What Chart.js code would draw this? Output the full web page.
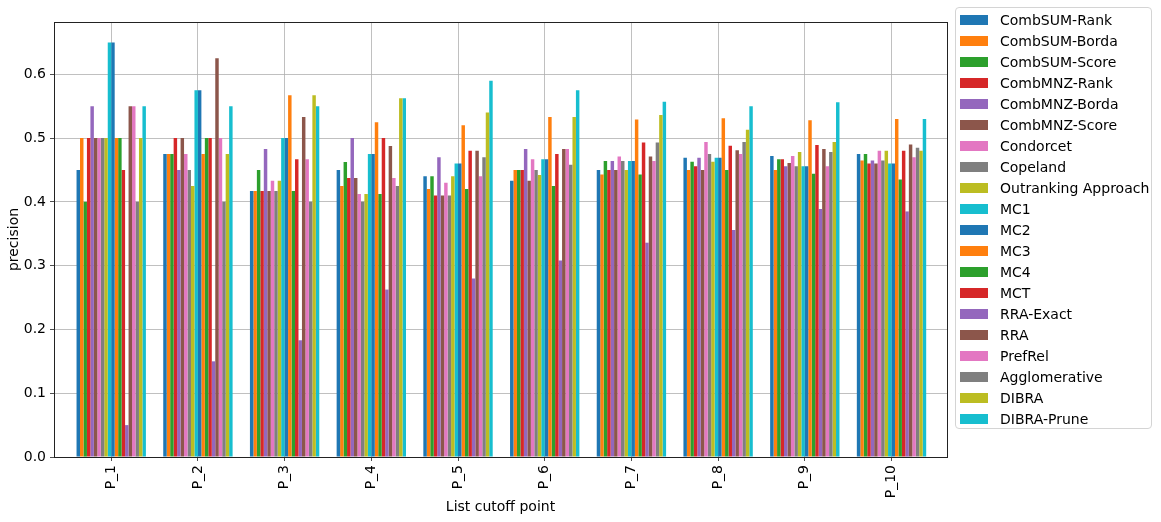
<!DOCTYPE html>
<html>
<head>
<meta charset="utf-8">
<script src="https://cdn.jsdelivr.net/npm/chart.js@4/dist/chart.umd.min.js"></script>
<style>
  html, body { margin: 0; padding: 0; background: #fff; }
  #wrap { position: relative; width: 1161px; height: 522px; }
  #legend {
    position: absolute; left: 955px; top: 7px; width: 197px; height: 422px;
    border: 1px solid #d4d4d4; border-radius: 4px; background: rgba(255,255,255,0.8);
    font-family: "DejaVu Sans", sans-serif; font-size: 14px; color: #000;
    box-sizing: border-box; padding-top: 1px;
  }
  .row { display: flex; align-items: center; height: 21px; }
  .box { width: 28px; height: 10px; margin-left: 4px; margin-right: 12px; }
</style>
</head>
<body>
<div id="wrap">
  <canvas id="chart" width="1161" height="522"></canvas>
  <div id="legend"></div>
</div>
<script>
const categories = ["P_1", "P_2", "P_3", "P_4", "P_5", "P_6", "P_7", "P_8", "P_9", "P_10"];
const methods = ["CombSUM-Rank", "CombSUM-Borda", "CombSUM-Score", "CombMNZ-Rank", "CombMNZ-Borda",
  "CombMNZ-Score", "Condorcet", "Copeland", "Outranking Approach", "MC1", "MC2", "MC3", "MC4",
  "MCT", "RRA-Exact", "RRA", "PrefRel", "Agglomerative", "DIBRA", "DIBRA-Prune"];
const colors = ["#1f77b4", "#ff7f0e", "#2ca02c", "#d62728", "#9467bd",
  "#8c564b", "#e377c2", "#7f7f7f", "#bcbd22", "#17becf"];
const yTicks = [0, 0.1, 0.2, 0.3, 0.4, 0.5, 0.6];

// precision per cutoff point, one value per method (same order as methods)
const p1 = [0.45, 0.5, 0.4, 0.5, 0.55, 0.5, 0.5, 0.5, 0.5, 0.65, 0.65, 0.5, 0.5, 0.45, 0.05, 0.55, 0.55, 0.4, 0.5, 0.55];
const p2 = [0.475, 0.475, 0.475, 0.5, 0.45, 0.5, 0.475, 0.45, 0.425, 0.575, 0.575, 0.475, 0.5, 0.5, 0.15, 0.625, 0.5, 0.4, 0.475, 0.55];
const p3 = [0.417, 0.417, 0.45, 0.417, 0.483, 0.417, 0.433, 0.417, 0.433, 0.5, 0.5, 0.567, 0.417, 0.467, 0.183, 0.533, 0.467, 0.4, 0.567, 0.55];
const p4 = [0.45, 0.425, 0.4625, 0.4375, 0.5, 0.4375, 0.4125, 0.4, 0.4125, 0.475, 0.475, 0.525, 0.4125, 0.5, 0.2625, 0.4875, 0.4375, 0.425, 0.5625, 0.5625];
const p5 = [0.44, 0.42, 0.44, 0.41, 0.47, 0.41, 0.43, 0.41, 0.44, 0.46, 0.46, 0.52, 0.42, 0.48, 0.28, 0.48, 0.44, 0.47, 0.54, 0.59];
const p6 = [0.433, 0.45, 0.45, 0.45, 0.483, 0.433, 0.467, 0.45, 0.442, 0.467, 0.467, 0.533, 0.425, 0.475, 0.308, 0.483, 0.483, 0.458, 0.533, 0.575];
const p7 = [0.45, 0.443, 0.464, 0.45, 0.464, 0.45, 0.471, 0.464, 0.45, 0.464, 0.464, 0.529, 0.443, 0.493, 0.336, 0.471, 0.464, 0.493, 0.536, 0.557];
const p8 = [0.469, 0.45, 0.463, 0.456, 0.469, 0.45, 0.494, 0.475, 0.463, 0.469, 0.469, 0.531, 0.45, 0.488, 0.356, 0.481, 0.475, 0.494, 0.513, 0.55];
const p9 = [0.472, 0.45, 0.467, 0.467, 0.456, 0.461, 0.472, 0.456, 0.478, 0.456, 0.456, 0.528, 0.444, 0.489, 0.389, 0.483, 0.456, 0.478, 0.494, 0.556];
const p10 = [0.475, 0.465, 0.475, 0.46, 0.465, 0.46, 0.48, 0.465, 0.48, 0.46, 0.46, 0.53, 0.435, 0.48, 0.385, 0.49, 0.47, 0.485, 0.48, 0.53];
const groups = [p1, p2, p3, p4, p5, p6, p7, p8, p9, p10];

const FONT = "DejaVu Sans";

// one dataset per method, x is the cutoff index on a linear axis
const datasets = methods.map(function (name, j) {
  return {
    label: name,
    data: groups.map(function (g, i) { return { x: i, y: g[j] }; }),
    backgroundColor: colors[j % colors.length],
    borderWidth: 0
  };
});

// legend box (html, framed like the original)
const legendEl = document.getElementById("legend");
methods.forEach(function (name, j) {
  const row = document.createElement("div");
  row.className = "row";
  const box = document.createElement("span");
  box.className = "box";
  box.style.background = colors[j % colors.length];
  const txt = document.createElement("span");
  txt.textContent = name;
  row.appendChild(box);
  row.appendChild(txt);
  legendEl.appendChild(row);
});

// top and right spines
const frame = {
  id: "frame",
  afterDraw: function (chart) {
    const a = chart.chartArea, ctx = chart.ctx;
    ctx.save();
    ctx.strokeStyle = "#222";
    ctx.lineWidth = 1;
    ctx.strokeRect(Math.round(a.left) + 0.5, Math.round(a.top) + 0.5,
      Math.round(a.right - a.left), Math.round(a.bottom - a.top));
    ctx.restore();
  }
};

new Chart(document.getElementById("chart").getContext("2d"), {
  type: "bar",
  data: { datasets: datasets },
  plugins: [frame],
  options: {
    responsive: false,
    animation: false,
    devicePixelRatio: 1,
    layout: { padding: { left: 0, right: 214, top: 22, bottom: 0 } },
    datasets: { bar: { categoryPercentage: 0.8, barPercentage: 1.0 } },
    plugins: { legend: { display: false }, tooltip: { enabled: false } },
    scales: {
      x: {
        type: "linear",
        min: -0.66,
        max: 9.64,
        offset: false,
        z: 1,
        grid: { offset: false, color: "#b0b0b0", lineWidth: 0.8, tickLength: 4, tickColor: "#222" },
        border: { color: "#222", width: 1 },
        ticks: {
          stepSize: 1,
          includeBounds: false,
          autoSkip: false,
          minRotation: 90,
          maxRotation: 90,
          padding: 4,
          color: "#000",
          font: { family: FONT, size: 14 },
          callback: function (v) { return categories[v]; }
        },
        title: {
          display: true,
          text: "List cutoff point",
          color: "#000",
          font: { family: FONT, size: 14 },
          padding: { top: 0, bottom: 6 }
        },
        afterFit: function (s) { s.height = 65; }
      },
      y: {
        min: 0,
        max: 0.682,
        z: 1,
        grid: { color: "#b0b0b0", lineWidth: 0.8, tickLength: 4, tickColor: "#222" },
        border: { color: "#222", width: 1 },
        afterBuildTicks: function (s) { s.ticks = yTicks.map(function (v) { return { value: v }; }); },
        ticks: {
          padding: 4,
          color: "#000",
          font: { family: FONT, size: 14 },
          callback: function (v) { return v.toFixed(1); }
        },
        title: {
          display: true,
          text: "precision",
          color: "#000",
          font: { family: FONT, size: 14 },
          padding: { top: 6, bottom: 0 }
        },
        afterFit: function (s) { s.width = 54; }
      }
    }
  }
});
</script>
</body>
</html>
